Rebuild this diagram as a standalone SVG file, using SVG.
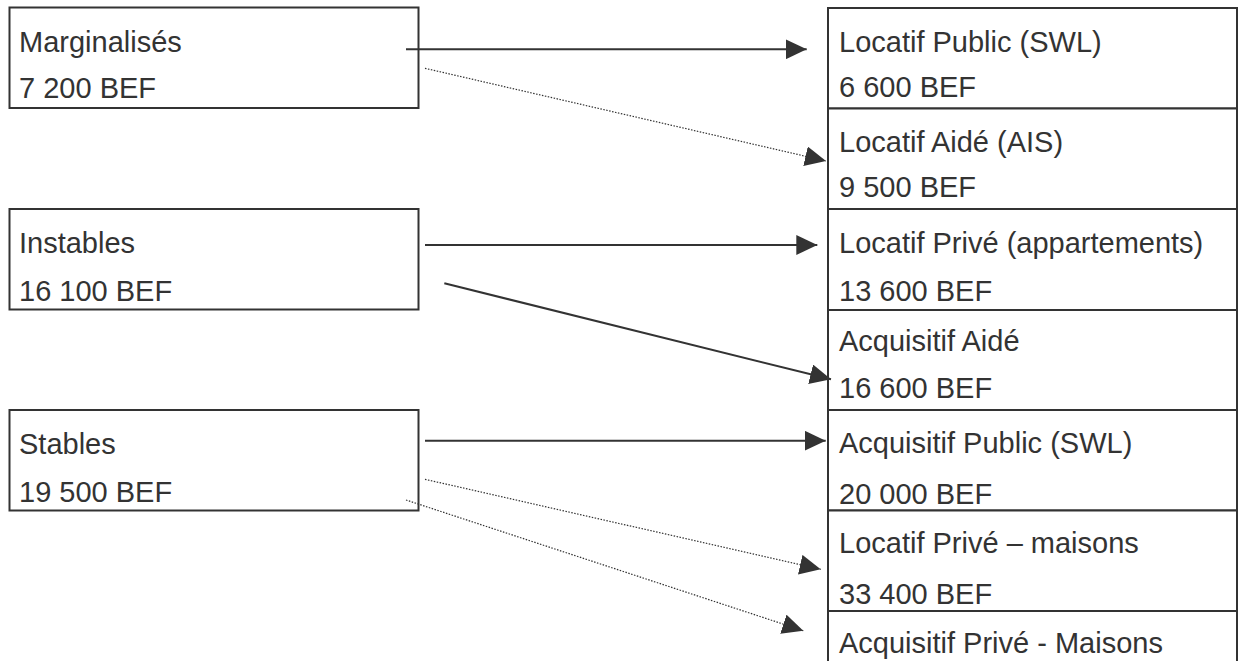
<svg xmlns="http://www.w3.org/2000/svg" width="1239" height="661" viewBox="0 0 1239 661">
<style>
.box{fill:#fff;stroke:#333;stroke-width:2}
.t{font-family:"Liberation Sans",Arial,sans-serif;font-size:29px;fill:#333}
.solid{stroke:#333;stroke-width:2;fill:none}
.dot{stroke:#333;stroke-width:1.2;stroke-dasharray:1.5 1.5;fill:none}
</style>
<defs>
<marker id="ah" markerUnits="userSpaceOnUse" markerWidth="22" markerHeight="20" refX="21" refY="10" orient="auto" viewBox="0 0 22 20">
<path d="M0,0 L21,10 L0,20 z" fill="#333"/>
</marker>
</defs>
<rect width="1239" height="661" fill="#fff"/>
<g id="marginalises"><rect class="box" x="9.5" y="7.5" width="409" height="100.5"/><text class="t" x="19" y="52">Marginalisés</text><text class="t" x="19" y="98">7 200 BEF</text></g>
<g id="instables"><rect class="box" x="9.5" y="209" width="409" height="100.5"/><text class="t" x="19" y="253">Instables</text><text class="t" x="19" y="301">16 100 BEF</text></g>
<g id="stables"><rect class="box" x="9.5" y="410" width="409" height="100.5"/><text class="t" x="19" y="454">Stables</text><text class="t" x="19" y="502">19 500 BEF</text></g>
<g id="locatif-public"><rect class="box" x="828" y="8" width="409" height="100.5"/><text class="t" x="839" y="52">Locatif Public (SWL)</text><text class="t" x="839" y="97">6 600 BEF</text></g>
<g id="locatif-aide"><rect class="box" x="828" y="108.5" width="409" height="100.5"/><text class="t" x="839" y="152">Locatif Aidé (AIS)</text><text class="t" x="839" y="197">9 500 BEF</text></g>
<g id="locatif-prive-app"><rect class="box" x="828" y="209" width="409" height="101"/><text class="t" x="839" y="253">Locatif Privé (appartements)</text><text class="t" x="839" y="301">13 600 BEF</text></g>
<g id="acquisitif-aide"><rect class="box" x="828" y="310" width="409" height="100"/><text class="t" x="839" y="351">Acquisitif Aidé</text><text class="t" x="839" y="398">16 600 BEF</text></g>
<g id="acquisitif-public"><rect class="box" x="828" y="410" width="409" height="100.5"/><text class="t" x="839" y="453">Acquisitif Public (SWL)</text><text class="t" x="839" y="504">20 000 BEF</text></g>
<g id="locatif-prive-maisons"><rect class="box" x="828" y="510.5" width="409" height="100.5"/><text class="t" x="839" y="553">Locatif Privé – maisons</text><text class="t" x="839" y="604">33 400 BEF</text></g>
<g id="acquisitif-prive-maisons"><rect class="box" x="828" y="611" width="409" height="70"/><text class="t" x="839" y="653">Acquisitif Privé - Maisons</text></g>
<g id="connectors">
<line class="solid" x1="406" y1="49.3" x2="806.7" y2="49.3" marker-end="url(#ah)"/>
<line class="dot" x1="425" y1="68.3" x2="826" y2="161" marker-end="url(#ah)"/>
<line class="solid" x1="425" y1="245" x2="817.3" y2="245" marker-end="url(#ah)"/>
<line class="solid" x1="444.3" y1="283.3" x2="831" y2="379.3" marker-end="url(#ah)"/>
<line class="solid" x1="425" y1="440.7" x2="825.7" y2="440.7" marker-end="url(#ah)"/>
<line class="dot" x1="425" y1="479.3" x2="820.7" y2="569.3" marker-end="url(#ah)"/>
<line class="dot" x1="406" y1="500" x2="803.3" y2="630.7" marker-end="url(#ah)"/>
</g>
</svg>
